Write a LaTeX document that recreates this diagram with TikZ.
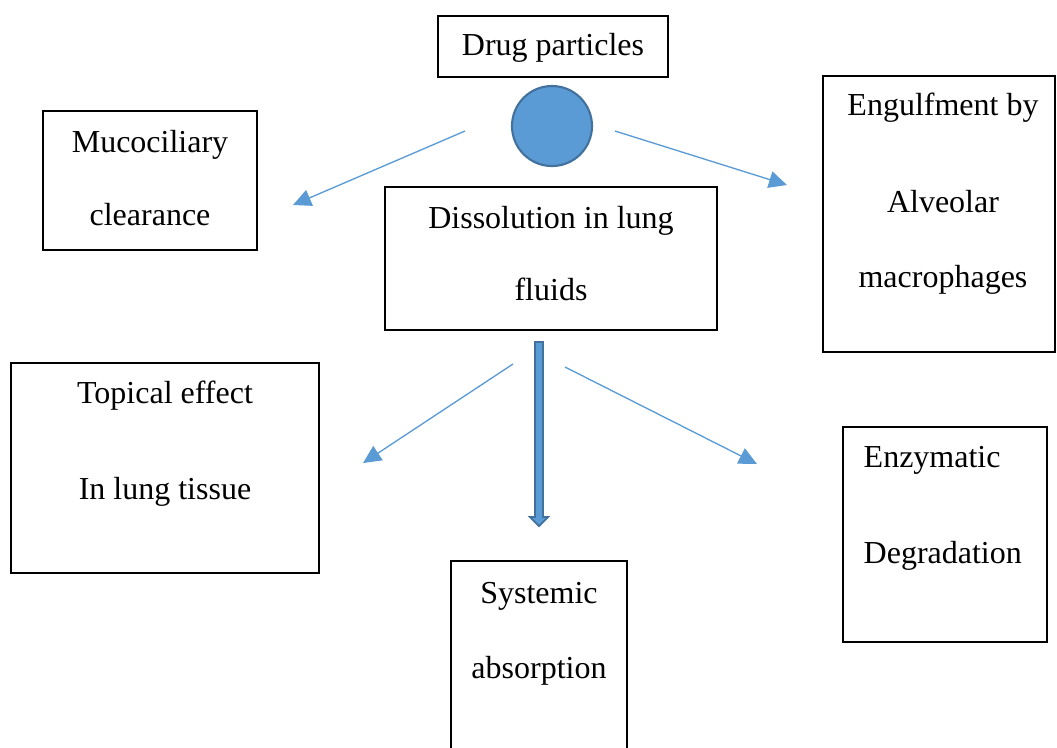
\documentclass[tikz,border=0pt]{standalone}
\usepackage{fontspec}
\setmainfont{Liberation Serif}
\usetikzlibrary{calc}
\usetikzlibrary{positioning}
\usetikzlibrary{arrows.meta}
\definecolor{ppblue}{HTML}{5B9BD5}
\definecolor{ppdark}{HTML}{41719C}

\begin{document}
\begin{tikzpicture}[x=0.01cm,y=-0.01cm,
bx/.style={draw, line width=0.6pt, inner sep=0pt},
tx/.style={anchor=base, inner sep=0pt, font=\fontsize{9.1}{11}\selectfont},
thinarr/.style={draw=ppblue, line width=0.38pt, -{Triangle[length=0.18cm,width=0.17cm]}}]
\useasboundingbox (0,0) rectangle (1057,747);

% boxes
\node (drug) at (553,46.5) [bx, minimum width=2.30cm, minimum height=0.61cm] {};
\node (muc) at (150,180.5) [bx, minimum width=2.14cm, minimum height=1.39cm] {};
\node (diss) at (551,258.5) [bx, minimum width=3.32cm, minimum height=1.43cm] {};
\node (eng) at (939,214) [bx, minimum width=2.32cm, minimum height=2.76cm] {};
\node (top) at (165,468) [bx, minimum width=3.08cm, minimum height=2.10cm] {};
\node (enz) at (945,534.5) [bx, minimum width=2.04cm, minimum height=2.15cm] {};
\node (sys) at (539,661) [bx, minimum width=1.76cm, minimum height=2.00cm] {};
\node (part) at (552,126) [circle, fill=ppblue, draw=ppdark, line width=0.6pt, minimum size=0.80cm, inner sep=0pt] {};

% texts
\node (drug1) at (553,55) [tx] {Drug particles};
\node (muc1) at (150,152) [tx] {Mucociliary};
\node (muc2) at (150,225) [tx] {clearance};
\node (diss1) at (551,228) [tx] {Dissolution in lung};
\node (diss2) at (551,300) [tx] {fluids};
\node (eng1) at (943,115) [tx] {Engulfment by};
\node (eng2) at (943,212) [tx] {Alveolar};
\node (eng3) at (943,287) [tx] {macrophages};
\node (top1) at (165,403) [tx] {Topical effect};
\node (top2) at (165,499) [tx] {In lung tissue};
\node (enz1) at (863,467) [tx, anchor=base west] {Enzymatic};
\node (enz2) at (863,563) [tx, anchor=base west] {Degradation};
\node (sys1) at (539,603) [tx] {Systemic};
\node (sys2) at (539,678) [tx] {absorption};

% thin arrows
\coordinate (a1s) at (465,131);
\coordinate (a1e) at (293,205);
\coordinate (a2s) at (615,131);
\coordinate (a2e) at (787,185);
\coordinate (a3s) at (513,364);
\coordinate (a3e) at (363,463);
\coordinate (a4s) at (565,367);
\coordinate (a4e) at (757,464);
\draw[thinarr] (a1s) -- (a1e);
\draw[thinarr] (a2s) -- (a2e);
\draw[thinarr] (a3s) -- (a3e);
\draw[thinarr] (a4s) -- (a4e);

% block arrow down to systemic absorption
\coordinate (fs) at (539,342);
\coordinate (fe) at (539,526);
\filldraw[fill=ppblue, draw=ppdark, line width=0.5pt] ($(fs)+(-4,0)$) -- ($(fs)+(4,0)$) -- ($(fe)+(4,-9)$) -- ($(fe)+(9,-9)$) -- (fe) -- ($(fe)+(-9,-9)$) -- ($(fe)+(-4,-9)$) -- cycle;
\end{tikzpicture}
\end{document}
